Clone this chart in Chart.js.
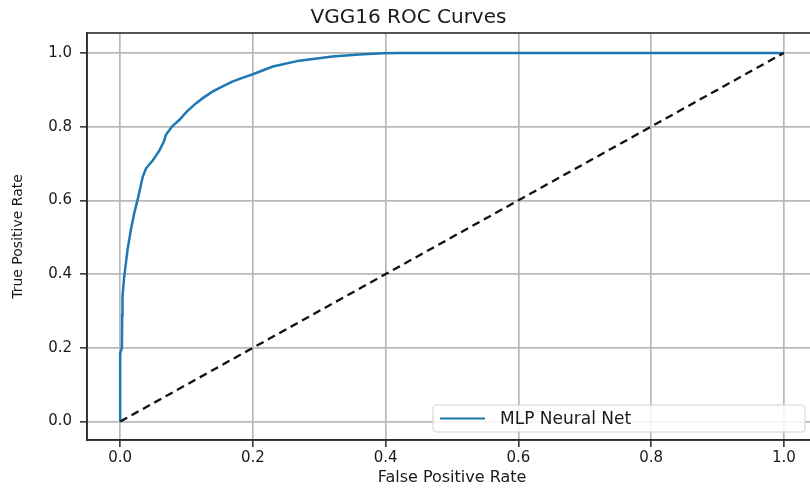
<!DOCTYPE html>
<html>
<head>
<meta charset="utf-8">
<script src="https://cdn.jsdelivr.net/npm/chart.js@4.4.0/dist/chart.umd.min.js"></script>
<style>
  html, body { margin: 0; padding: 0; background: #fff; overflow: hidden; }
  #wrap { width: 820px; height: 491px; }
</style>
</head>
<body>
<div id="wrap"><canvas id="roc"></canvas></div>
<script>

// ROC curve
var fpr = [0, 0, 0.0026, 0.003, 0.0035, 0.006, 0.011, 0.016, 0.021, 0.026, 0.034, 0.039, 0.049, 0.059, 0.066, 0.069, 0.078, 0.089, 0.1, 0.114, 0.125, 0.139, 0.155, 0.169, 0.185, 0.2, 0.23, 0.27, 0.32, 0.36, 0.395, 0.42, 1.0];
var tpr = [0, 0.185, 0.2, 0.29, 0.34, 0.392, 0.465, 0.519, 0.564, 0.60, 0.664, 0.687, 0.708, 0.735, 0.76, 0.778, 0.80, 0.818, 0.84, 0.863, 0.878, 0.895, 0.91, 0.922, 0.933, 0.942, 0.963, 0.979, 0.99, 0.996, 0.999, 1.0, 1.0];

// chance line
var diagX = [0, 1];
var diagY = [0, 1];

var xTicks = [0, 0.2, 0.4, 0.6, 0.8, 1.0];
var yTicks = [0, 0.2, 0.4, 0.6, 0.8, 1.0];

var seriesName = 'MLP Neural Net';
var chartTitle = 'VGG16 ROC Curves';

var fontFam = '"DejaVu Sans", sans-serif';
var textColor = '#1a1a1a';
var gridColor = '#b8b8b8';
var spineColor = '#2b2b2b';

function toPoints(xs, ys) {
    var pts = [];
    for (var i = 0; i < xs.length; i++) {
        pts.push({x: xs[i], y: ys[i]});
    }
    return pts;
}

// draws top/right spines and the legend box like matplotlib
var frameAndLegend = {
    id: 'frameAndLegend',
    afterDraw: function(chart) {
        var c = chart.ctx;
        var a = chart.chartArea;
        c.save();
        c.strokeStyle = spineColor;
        c.lineWidth = 1.6;
        c.strokeRect(a.left, a.top, a.right - a.left, a.bottom - a.top);

        var w = 372, h = 27;
        var bx = a.right - 12 - w;
        var by = a.bottom - 8 - h;
        c.fillStyle = 'rgba(255,255,255,0.85)';
        c.strokeStyle = '#d2d2d2';
        c.lineWidth = 1;
        c.beginPath();
        c.roundRect(bx, by, w, h, 3);
        c.fill();
        c.stroke();

        var my = by + h / 2;
        c.strokeStyle = '#1f77b4';
        c.lineWidth = 2.2;
        c.beginPath();
        c.moveTo(bx + 7, my);
        c.lineTo(bx + 52, my);
        c.stroke();

        c.fillStyle = textColor;
        c.font = '17px ' + fontFam;
        c.textBaseline = 'middle';
        c.textAlign = 'left';
        c.fillText(seriesName, bx + 67, my + 1);
        c.restore();
    }
};

var ctx = document.getElementById('roc');

var chart = new Chart(ctx.getContext('2d'), {
    type: 'scatter',
    data: {
        datasets: [{
            label: 'chance',
            data: toPoints(diagX, diagY),
            showLine: true,
            borderColor: '#111111',
            borderWidth: 2.3,
            borderDash: [8, 5],
            pointRadius: 0,
            fill: false,
            order: 0
        }, {
            label: seriesName,
            data: toPoints(fpr, tpr),
            showLine: true,
            borderColor: '#1f77b4',
            borderWidth: 2.5,
            pointRadius: 0,
            tension: 0,
            fill: false,
            order: 1
        }]
    },
    options: {
        responsive: true,
        maintainAspectRatio: false,
        animation: false,
        layout: { padding: { left: 0, right: 3, top: 0, bottom: 0 } },
        plugins: {
            legend: { display: false },
            tooltip: { enabled: false },
            title: {
                display: true,
                text: chartTitle,
                color: textColor,
                font: { family: fontFam, size: 20, weight: 'normal' },
                padding: { top: 6, bottom: 3 }
            }
        },
        scales: {
            x: {
                type: 'linear',
                min: -0.05,
                max: 1.05,
                afterBuildTicks: function(s) {
                    s.ticks = xTicks.map(function(v) { return {value: v}; });
                },
                afterFit: function(s) { s.height = 51; },
                ticks: {
                    color: textColor,
                    padding: 2,
                    maxRotation: 0,
                    font: { family: fontFam, size: 15 },
                    callback: function(v) { return Number(v).toFixed(1); }
                },
                grid: {
                    color: gridColor,
                    lineWidth: 1.7,
                    tickLength: 7,
                    tickColor: spineColor,
                    tickWidth: 1.5
                },
                border: { color: spineColor, width: 1.6 },
                title: {
                    display: true,
                    text: 'False Positive Rate',
                    color: textColor,
                    font: { family: fontFam, size: 16 },
                    padding: { top: 0, bottom: 4 }
                }
            },
            y: {
                type: 'linear',
                min: -0.05,
                max: 1.054,
                afterBuildTicks: function(s) {
                    s.ticks = yTicks.map(function(v) { return {value: v}; });
                },
                afterFit: function(s) { s.width = 87; },
                ticks: {
                    color: textColor,
                    padding: 8,
                    font: { family: fontFam, size: 15 },
                    callback: function(v) { return Number(v).toFixed(1); }
                },
                grid: {
                    color: gridColor,
                    lineWidth: 1.7,
                    tickLength: 7,
                    tickColor: spineColor,
                    tickWidth: 1.5
                },
                border: { color: spineColor, width: 1.6 },
                title: {
                    display: true,
                    text: 'True Positive Rate',
                    color: textColor,
                    font: { family: fontFam, size: 14 },
                    padding: { top: 10, bottom: 0 }
                }
            }
        }
    },
    plugins: [frameAndLegend]
});

</script>
</body>
</html>
